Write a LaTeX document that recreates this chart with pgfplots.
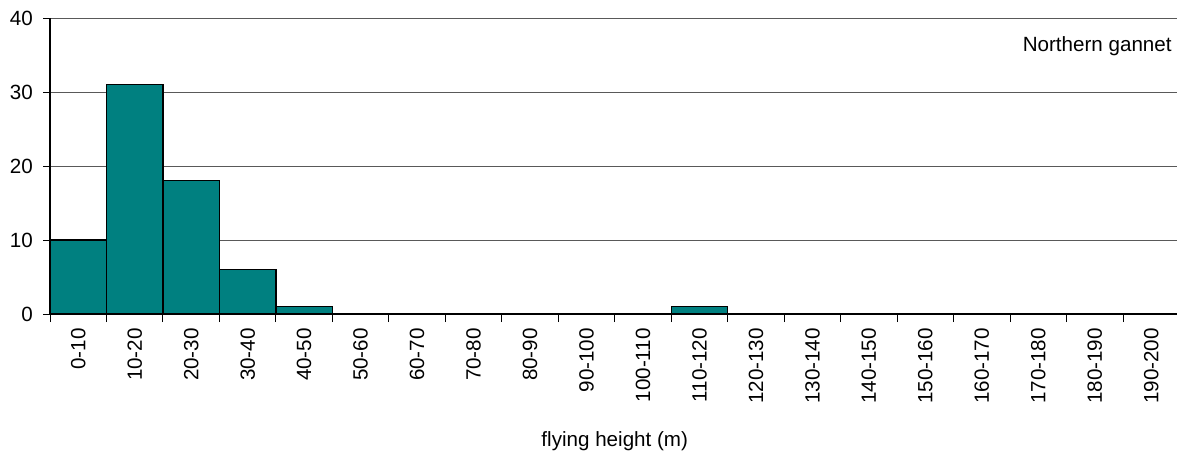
\documentclass[border=0pt]{standalone}
\usepackage{pgfplots}
\pgfplotsset{compat=1.18}
\usepackage{fontspec}
\setmainfont{Liberation Sans}
\definecolor{barteal}{RGB}{0,128,128}
\begin{document}
\fontsize{10.3}{12}\selectfont
\begin{tikzpicture}
\useasboundingbox (0,0) rectangle (588.5pt,231pt);
\begin{axis}[
    at={(25pt,74pt)}, anchor=south west,
    scale only axis,
    width=564.75pt, height=148pt,
    xmin=0, xmax=20,
    ymin=0, ymax=40,
    ytick={0,10,20,30,40},
    xtick={0.5,1.5,...,19.5},
    minor xtick={0,1,...,20},
    xticklabels={0-10,10-20,20-30,30-40,40-50,50-60,60-70,70-80,80-90,90-100,100-110,110-120,120-130,130-140,140-150,150-160,160-170,170-180,180-190,190-200},
    axis x line*=bottom, axis y line*=left,
    axis line style={black, line width=0.6pt, -},
    tick align=outside,
    major x tick style={draw=none},
    minor x tick style={black, line width=0.5pt},
    minor tick length=4pt,
    major tick length=3.5pt,
    ytick style={black, line width=0.5pt},
    ymajorgrids,
    grid style={black!65, line width=0.5pt},
    xticklabel style={rotate=90, anchor=east, font=\fontsize{10.3}{12}\selectfont},
    yticklabel style={font=\fontsize{10.3}{12}\selectfont, xshift=-1.5pt},
    /pgf/number format/assume math mode=true,
    xlabel={flying height (m)},
    every axis x label/.style={at={(axis description cs:0.5,-0.429)}, anchor=center, font=\fontsize{10.3}{12}\selectfont},
    ybar, bar width=1,
    clip=false,
]
\addplot[fill=barteal, draw=black, line width=0.65pt] coordinates {
    (0.5,10) (1.5,31) (2.5,18) (3.5,6) (4.5,1) (5.5,0) (6.5,0) (7.5,0) (8.5,0) (9.5,0)
    (10.5,0) (11.5,1) (12.5,0) (13.5,0) (14.5,0) (15.5,0) (16.5,0) (17.5,0) (18.5,0) (19.5,0)
};
\node[anchor=east, inner sep=0pt, font=\fontsize{10.3}{12}\selectfont] at (rel axis cs:0.9934,0.905) {Northern gannet};
\end{axis}
\end{tikzpicture}
\end{document}
